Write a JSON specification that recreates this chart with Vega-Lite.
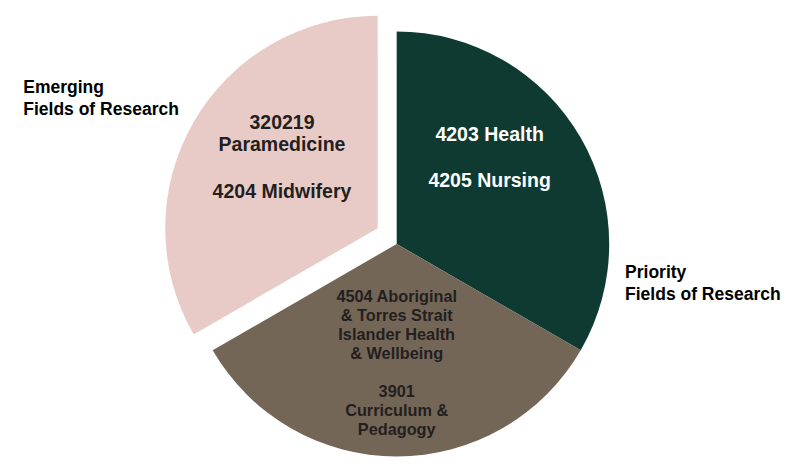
{
  "$schema": "https://vega.github.io/schema/vega-lite/v6.json",
  "width": 800,
  "height": 475,
  "autosize": {"type": "none"},
  "padding": 0,
  "background": "white",
  "config": {
    "view": {"stroke": null},
    "text": {"font": "Liberation Sans", "fontWeight": "bold", "align": "center", "baseline": "middle"}
  },
  "data": {
    "values": [
      {"group": "Priority", "share": 1, "top": ["4203 Health"], "bottom": ["4205 Nursing"], "side": ["Priority", "Fields of Research"]},
      {"group": "Core", "share": 1, "top": ["4504 Aboriginal", "& Torres Strait", "Islander Health", "& Wellbeing"], "bottom": ["3901", "Curriculum &", "Pedagogy"], "side": [""]},
      {"group": "Emerging", "share": 1, "top": ["320219", "Paramedicine"], "bottom": ["4204 Midwifery"], "side": ["Emerging", "Fields of Research"]}
    ]
  },
  "transform": [
    {"stack": "share", "groupby": [], "as": ["t0", "t1"]},
    {"calculate": "(datum.t0 + datum.t1) / 2", "as": "mid"}
  ],
  "layer": [
    {
      "transform": [{"filter": "datum.group != 'Emerging'"}],
      "mark": {"type": "arc", "xOffset": -3.3, "yOffset": 6.5, "outerRadius": 212.5},
      "encoding": {
        "theta": {"field": "t0", "type": "quantitative", "scale": {"domain": [0, 3], "range": [0, 6.283185]}},
        "theta2": {"field": "t1"},
        "color": {"field": "group", "type": "nominal", "legend": null,
          "scale": {"domain": ["Priority", "Core", "Emerging"], "range": ["#0f3a32", "#746656", "#e8cbc7"]}}
      }
    },
    {
      "transform": [{"filter": "datum.group == 'Emerging'"}],
      "mark": {"type": "arc", "xOffset": -22.3, "yOffset": -9.3, "outerRadius": 212.5},
      "encoding": {
        "theta": {"field": "t0", "type": "quantitative"},
        "theta2": {"field": "t1"},
        "color": {"field": "group", "type": "nominal", "legend": null}
      }
    },
    {
      "transform": [{"filter": "datum.group == 'Priority'"}],
      "mark": {"type": "text", "radius": 120, "xOffset": -3.3, "yOffset": 6.5, "dx": -11, "dy": -49,
        "fontSize": 19.5, "lineHeight": 23, "color": "white"},
      "encoding": {"theta": {"field": "mid", "type": "quantitative"}, "text": {"field": "top"}}
    },
    {
      "transform": [{"filter": "datum.group == 'Priority'"}],
      "mark": {"type": "text", "radius": 120, "xOffset": -3.3, "yOffset": 6.5, "dx": -11, "dy": -3,
        "fontSize": 19.5, "lineHeight": 23, "color": "white"},
      "encoding": {"theta": {"field": "mid", "type": "quantitative"}, "text": {"field": "bottom"}}
    },
    {
      "transform": [{"filter": "datum.group == 'Core'"}],
      "mark": {"type": "text", "radius": 120, "xOffset": -3.3, "yOffset": 6.5, "dx": 0, "dy": -67,
        "fontSize": 16.3, "lineHeight": 19, "color": "#231f20"},
      "encoding": {"theta": {"field": "mid", "type": "quantitative"}, "text": {"field": "top"}}
    },
    {
      "transform": [{"filter": "datum.group == 'Core'"}],
      "mark": {"type": "text", "radius": 120, "xOffset": -3.3, "yOffset": 6.5, "dx": 0, "dy": 28,
        "fontSize": 16.3, "lineHeight": 19, "color": "#231f20"},
      "encoding": {"theta": {"field": "mid", "type": "quantitative"}, "text": {"field": "bottom"}}
    },
    {
      "transform": [{"filter": "datum.group == 'Emerging'"}],
      "mark": {"type": "text", "radius": 120, "xOffset": -3.3, "yOffset": 6.5, "dx": -10.8, "dy": -61.5,
        "fontSize": 19.5, "lineHeight": 22.5, "color": "#231f20"},
      "encoding": {"theta": {"field": "mid", "type": "quantitative"}, "text": {"field": "top"}}
    },
    {
      "transform": [{"filter": "datum.group == 'Emerging'"}],
      "mark": {"type": "text", "radius": 120, "xOffset": -3.3, "yOffset": 6.5, "dx": -10.8, "dy": 7.5,
        "fontSize": 19.5, "lineHeight": 22.5, "color": "#231f20"},
      "encoding": {"theta": {"field": "mid", "type": "quantitative"}, "text": {"field": "bottom"}}
    },
    {
      "transform": [{"filter": "datum.group == 'Emerging'"}],
      "mark": {"type": "text", "radius": 240, "xOffset": -3.3, "yOffset": 6.5, "dx": -165.6, "dy": -35.7,
        "fontSize": 17.5, "lineHeight": 21.7, "color": "black", "align": "left"},
      "encoding": {"theta": {"field": "mid", "type": "quantitative"}, "text": {"field": "side"}}
    },
    {
      "transform": [{"filter": "datum.group == 'Priority'"}],
      "mark": {"type": "text", "radius": 240, "xOffset": -3.3, "yOffset": 6.5, "dx": 20.5, "dy": 149.3,
        "fontSize": 17.5, "lineHeight": 21.7, "color": "black", "align": "left"},
      "encoding": {"theta": {"field": "mid", "type": "quantitative"}, "text": {"field": "side"}}
    }
  ]
}
